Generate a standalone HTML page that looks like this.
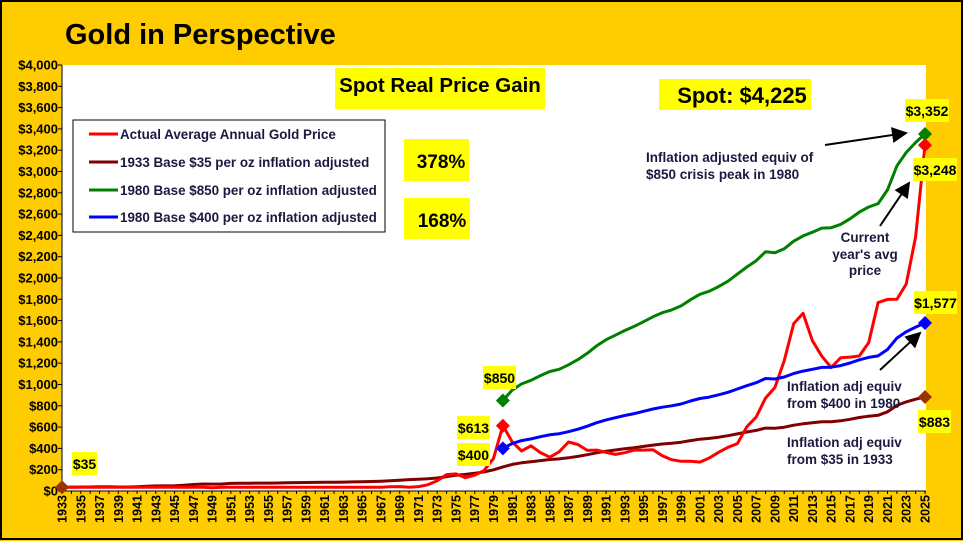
<!DOCTYPE html>
<html><head><meta charset="utf-8"><style>
html,body{margin:0;padding:0;}
body{width:963px;height:541px;overflow:hidden;background:#FFCC00;font-family:"Liberation Sans",Arial,sans-serif;}
svg{display:block;}
text{font-family:"Liberation Sans",Arial,sans-serif;font-weight:bold;}
</style></head><body>
<svg id="chart" width="963" height="541" viewBox="0 0 963 541" xmlns="http://www.w3.org/2000/svg">
<defs><marker id="ah" markerWidth="8" markerHeight="8" refX="7" refY="4" orient="auto"><path d="M0,0 L8,4 L0,8 z" fill="#000"/></marker></defs>
<rect x="1" y="1" width="961" height="538" fill="#FFCC00" stroke="#000" stroke-width="2"/>
<text x="65" y="44" font-size="29" fill="#000">Gold in Perspective</text>
<rect x="62" y="65" width="864" height="426" fill="#fff"/>
<g id="axes"></g>
<g id="series"></g>
<g><rect x="335" y="68" width="210" height="41" fill="#FFFF00"/><text x="440" y="92" font-size="20.5" text-anchor="middle">Spot Real Price Gain</text></g>
<g><rect x="659" y="79" width="152" height="31" fill="#FFFF00"/><text x="742" y="103" font-size="22" text-anchor="middle">Spot:  $4,225</text></g>
<g><rect x="404" y="139" width="65" height="42" fill="#FFFF00"/><text x="441" y="168" font-size="19" text-anchor="middle">378%</text></g>
<g><rect x="404" y="198" width="66" height="41" fill="#FFFF00"/><text x="442" y="227" font-size="19" text-anchor="middle">168%</text></g>
<g>
<rect x="73" y="120" width="312" height="112" fill="#fff" stroke="#000" stroke-width="1"/>
<line x1="89" y1="134" x2="118" y2="134" stroke="#FF0000" stroke-width="3"/><text x="120" y="139" font-size="13.4" fill="#1a1a40">Actual Average Annual Gold Price</text>
<line x1="89" y1="162" x2="118" y2="162" stroke="#800000" stroke-width="3"/><text x="120" y="167" font-size="13.4" fill="#1a1a40">1933 Base $35 per oz inflation adjusted</text>
<line x1="89" y1="190" x2="118" y2="190" stroke="#008000" stroke-width="3"/><text x="120" y="195" font-size="13.4" fill="#1a1a40">1980 Base $850 per oz inflation adjusted</text>
<line x1="89" y1="217" x2="118" y2="217" stroke="#0000FF" stroke-width="3"/><text x="120" y="222" font-size="13.4" fill="#1a1a40">1980 Base $400 per oz inflation adjusted</text>
</g>
<g font-size="13.5" fill="#1a1a40">
<text x="646" y="162">Inflation adjusted equiv of</text><text x="646" y="179">$850 crisis peak in 1980</text>
<line x1="825" y1="145" x2="906" y2="133" stroke="#000" stroke-width="2" marker-end="url(#ah)"/>
<text x="865" y="242" text-anchor="middle">Current</text><text x="865" y="259" text-anchor="middle">year's avg</text><text x="865" y="275" text-anchor="middle">price</text>
<line x1="880" y1="226" x2="909" y2="183" stroke="#000" stroke-width="2" marker-end="url(#ah)"/>
<text x="787" y="391">Inflation adj equiv</text><text x="787" y="408">from $400 in 1980</text>
<line x1="880" y1="370" x2="920" y2="333" stroke="#000" stroke-width="2" marker-end="url(#ah)"/>
<text x="787" y="447">Inflation adj equiv</text><text x="787" y="464">from $35 in 1933</text>
</g>
<g id="labels"></g>
</svg>
<script>
const startYear = 1933;
const yTicks = [0,200,400,600,800,1000,1200,1400,1600,1800,2000,2200,2400,2600,2800,3000,3200,3400,3600,3800,4000];
const goldPrice = [35,35,35,35,35,35,35,35,35,35, 35,35,35,35,35,35,31,35,35,35, 35,35,35,35,35,35,35,35,35,35, 35,35,35,35,35,39,41,36,41,58, 97,154,161,125,148,193,306,613,460,376, 424,361,317,368,460,437,381,384,362,344, 360,384,384,388,331,294,279,279,271,310, 363,410,445,603,695,872,972,1225,1572,1669, 1411,1266,1160,1251,1257,1268,1393,1770,1799,1800, 1943,2386,3248];
const base1933 = [35,37,38,38,40,39,38,38,40,45, 48,48,49,54,61,66,65,66,71,73, 73,74,74,75,77,79,80,81,82,83, 84,85,87,89,92,96,101,107,111,115, 122,135,148,156,166,179,199,226,250,265, 274,285,296,301,312,325,341,359,374,385, 397,407,419,431,441,448,458,473,486,494, 505,519,536,554,569,591,589,599,618,631, 640,650,651,659,673,690,702,711,744,804, 837,862,883];
const base1980Start = 1980;
const base850 = [850,948,1006,1039,1084,1122,1143,1185,1234,1293,1363,1421,1463,1507,1546,1590,1636,1674,1700,1738,1796,1847,1876,1919,1970,2037,2103,2162,2246,2237,2275,2346,2395,2430,2469,2472,2503,2556,2619,2667,2699,2827,3053,3178,3272,3352];
const base400 = [400,446,473,489,510,528,538,557,580,608,641,668,688,709,727,748,770,787,800,817,845,869,882,903,927,958,989,1017,1056,1052,1070,1103,1126,1143,1161,1162,1177,1202,1232,1254,1269,1329,1436,1495,1539,1577];

const NS="http://www.w3.org/2000/svg";
const X0=62, X1=925, Y0=491, Y1=65, VMAX=4000;
const nYears = goldPrice.length;
function xs(year){return X0+(year-startYear)*(X1-X0)/(nYears-1);}
function ys(v){return Y0-v*(Y0-Y1)/VMAX;}
function mk(tag,attrs,parent){const e=document.createElementNS(NS,tag);for(const k in attrs)e.setAttribute(k,attrs[k]);parent.appendChild(e);return e;}
const axes=document.getElementById('axes'), series=document.getElementById('series'), labels=document.getElementById('labels');

const yAxis=mk('g',{},axes);


mk('line',{x1:X0,y1:Y1,x2:X0,y2:Y0,stroke:'#000','stroke-width':1},yAxis);
yTicks.forEach(v=>{
  mk('line',{x1:X0-4,y1:ys(v),x2:X0,y2:ys(v),stroke:'#000'},yAxis);
  const t=mk('text',{x:X0-4,y:ys(v)+4.5,'font-size':13,'text-anchor':'end',fill:'#000'},yAxis);
  t.textContent='$'+v.toLocaleString('en-US');
  
  
});
const xAxis=mk('g',{},axes);


mk('line',{x1:X0,y1:Y0,x2:X1+1,y2:Y0,stroke:'#000','stroke-width':1},xAxis);
for(let i=0;i<nYears;i++){
  const yr=startYear+i, x=xs(yr);
  mk('line',{x1:x,y1:Y0,x2:x,y2:Y0+3,stroke:'#000'},xAxis);
  if(i%2===0){
    const t=mk('text',{x:0,y:0,'font-size':12.5,'text-anchor':'end',fill:'#000',transform:`translate(${x+4.5},${Y0+4}) rotate(-90)`},xAxis);
    t.textContent=yr;
    
    
  }
}
function drawLine(arr,start,color,name){
  const pts=arr.map((v,i)=>xs(start+i).toFixed(1)+','+ys(v).toFixed(1)).join(' ');
  const p=mk('polyline',{points:pts,fill:'none',stroke:color,'stroke-width':3,'stroke-linejoin':'round'},series);
  
  
}
function diamond(year,v,color,name){
  const x=xs(year),y=ys(v),r=7;
  const d=mk('polygon',{points:`${x},${y-r} ${x+r},${y} ${x},${y+r} ${x-r},${y}`,fill:color},series);
  
  
}
drawLine(base1933,startYear,'#800000','series-1933-base');
drawLine(goldPrice,startYear,'#FF0000','series-actual-gold');
drawLine(base850,base1980Start,'#008000','series-1980-850-base');
drawLine(base400,base1980Start,'#0000FF','series-1980-400-base');
const endYear=startYear+nYears-1;
diamond(startYear,base1933[0],'#993300','marker-1933-start');
diamond(endYear,base1933[base1933.length-1],'#993300','marker-1933-end');
diamond(base1980Start,base850[0],'#008000','marker-850-start');
diamond(endYear,base850[base850.length-1],'#008000','marker-850-end');
diamond(base1980Start,goldPrice[base1980Start-startYear],'#FF0000','marker-gold-1980');
diamond(endYear,goldPrice[nYears-1],'#FF0000','marker-gold-end');
diamond(base1980Start,base400[0],'#0000FF','marker-400-start');
diamond(endYear,base400[base400.length-1],'#0000FF','marker-400-end');

function valLabel(txt,x,y,w,name){
  const g=mk('g',{},labels);
  
  
  mk('rect',{x:x,y:y,width:w,height:23,fill:'#FFFF00'},g);
  const t=mk('text',{x:x+w/2,y:y+17,'font-size':14,'text-anchor':'middle',fill:'#000'},g);
  t.textContent=txt;
}
function fmt(v){return '$'+v.toLocaleString('en-US');}
valLabel(fmt(base1933[0]),72,452,25,'label-35');
valLabel(fmt(base850[0]),483,366,33,'label-850');
valLabel(fmt(goldPrice[base1980Start-startYear]),457,416,33,'label-613');
valLabel(fmt(base400[0]),457,443,33,'label-400');
valLabel(fmt(base850[base850.length-1]),905,99,44,'label-3352');
valLabel(fmt(goldPrice[nYears-1]),913,158,44,'label-3248');
valLabel(fmt(base400[base400.length-1]),914,291,43,'label-1577');
valLabel(fmt(base1933[base1933.length-1]),918,410,33,'label-883');
</script>
</body></html>
